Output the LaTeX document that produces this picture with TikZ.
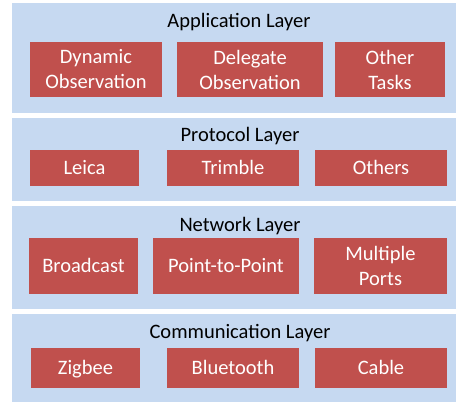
\documentclass[tikz,border=0pt]{standalone}
\usepackage{fontspec}
\setmainfont{Carlito}
\usepackage{xcolor}
\usepackage{tikz}

\definecolor{layerblue}{RGB}{198,217,241}
\definecolor{boxred}{RGB}{192,80,77}

\begin{document}
\begin{tikzpicture}[x=1pt, y=-1pt,
    layer/.style={fill=layerblue, draw=none, inner sep=0pt, anchor=north west},
    title/.style={font=\fontsize{20.5}{24}\selectfont, anchor=base},
    item/.style={fill=boxred, text=white, font=\fontsize{20.5}{25}\selectfont, align=center, inner sep=0pt},
    oneline/.style={text height=13.2pt, text depth=0pt}]
            \useasboundingbox (0,0) rectangle (456,402);
            \node[layer, minimum width=444, minimum height=110] (applayer) at (12,3) {};
            \node[layer, minimum width=444, minimum height=83] (protlayer) at (12,118) {};
            \node[layer, minimum width=444, minimum height=103] (netlayer) at (12,206) {};
            \node[layer, minimum width=444, minimum height=88] (commlayer) at (12,314) {};
            \node[title] (apptitle) at (239,27.5) {Application Layer};
            \node[title] (prottitle) at (240,141.5) {Protocol Layer};
            \node[title] (nettitle) at (240,231) {Network Layer};
            \node[title] (commtitle) at (240,338.5) {Communication Layer};
            \node[item, minimum width=132, minimum height=55] (dynobs) at (96,69.5) {Dynamic\\Observation};
            \node[item, minimum width=146, minimum height=55] (delobs) at (250,69.5) {Delegate\\Observation};
            \node[item, minimum width=110, minimum height=55] (othertasks) at (390,69.5) {Other\\Tasks};
            \node[item, oneline, minimum width=109, minimum height=36] (leica) at (84.5,168) {Leica};
            \node[item, oneline, minimum width=132, minimum height=36] (trimble) at (233,168) {Trimble};
            \node[item, oneline, minimum width=132, minimum height=36] (others) at (381,168) {Others};
            \node[item, oneline, minimum width=109, minimum height=56] (broadcast) at (83.5,266) {Broadcast};
            \node[item, oneline, minimum width=146, minimum height=56] (ptp) at (226,266) {Point-to-Point};
            \node[item, minimum width=133, minimum height=56] (multiports) at (380.5,266) {Multiple\\Ports};
            \node[item, oneline, minimum width=109, minimum height=40] (zigbee) at (85.5,368) {Zigbee};
            \node[item, oneline, minimum width=132, minimum height=40] (bluetooth) at (233,368) {Bluetooth};
            \node[item, oneline, minimum width=132, minimum height=40] (cable) at (381,368) {Cable};
\end{tikzpicture}
\end{document}
